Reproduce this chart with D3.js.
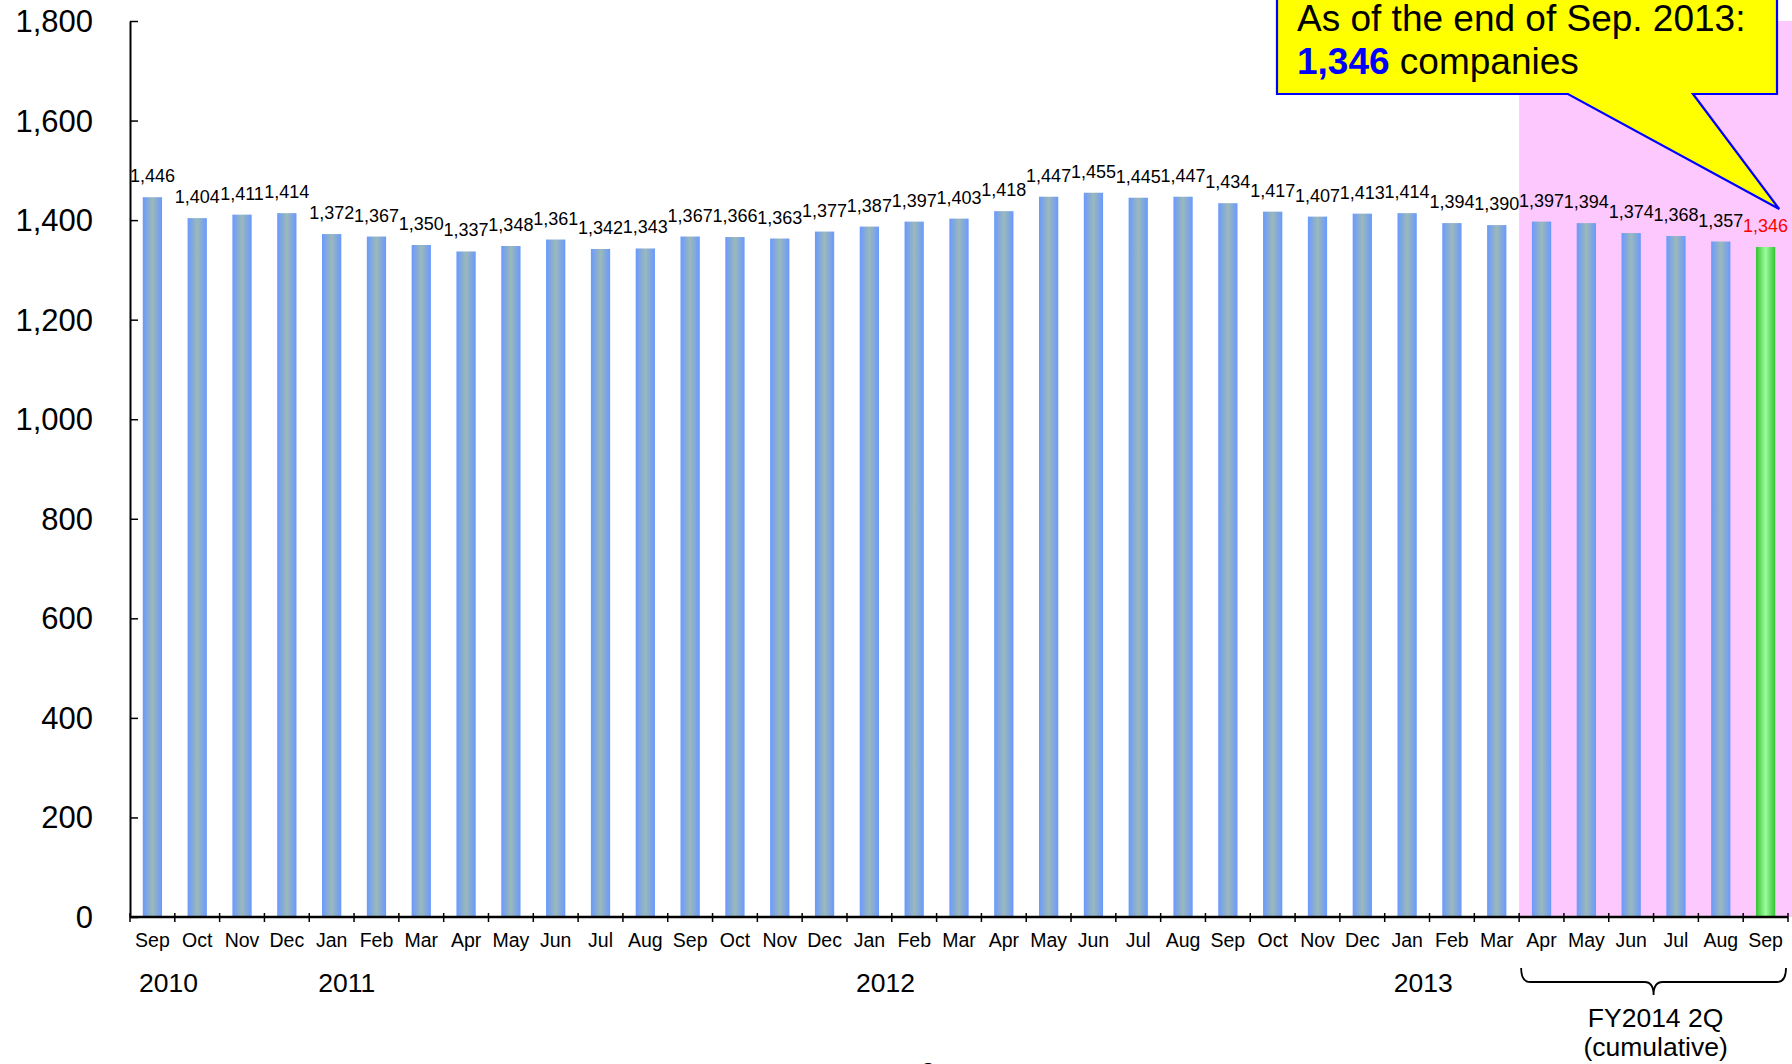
<!DOCTYPE html>
<html>
<head>
<meta charset="utf-8">
<script src="https://cdn.jsdelivr.net/npm/d3@7"></script>
<style>
    html, body { margin: 0; padding: 0; background: #ffffff; }
    svg { display: block; }
    .chartText { font-family: "Liberation Sans", Arial, sans-serif; fill: #000000; }
</style>
</head>
<body>
<svg width="1792" height="1064"></svg>
<script>
// monthly company counts, Sep 2010 .. Sep 2013
const months = ["Sep","Oct","Nov","Dec",
    "Jan","Feb","Mar","Apr","May","Jun","Jul","Aug","Sep","Oct","Nov","Dec",
    "Jan","Feb","Mar","Apr","May","Jun","Jul","Aug","Sep","Oct","Nov","Dec",
    "Jan","Feb","Mar","Apr","May","Jun","Jul","Aug","Sep"]
const counts = [1446,1404,1411,1414,
    1372,1367,1350,1337,1348,1361,1342,1343,1367,1366,1363,1377,
    1387,1397,1403,1418,1447,1455,1445,1447,1434,1417,1407,1413,
    1414,1394,1390,1397,1394,1374,1368,1357,1346]

// year labels and the month index they start at
const years = ["2010","2011","2012","2013"]
const yearStart = [0,4,16,28]

// FY2014 2Q cumulative months (Apr 2013 onwards)
const fyStart = 31
const fyLabel = ["FY2014 2Q","(cumulative)"]

const yTicks = [0,200,400,600,800,1000,1200,1400,1600,1800]

const calloutLine1 = "As of the end of Sep. 2013:"
const calloutValue = "1,346"
const calloutRest = " companies"

let svg = d3.select("svg")
let svgWidth = 1792

//plot area
let plotLeft = 130
let plotRight = 1788
let plotTop = 21
let plotBottom = 917

let fmt = d3.format(",")

let x = d3.scaleBand()
    .domain(d3.range(counts.length))
    .range([plotLeft, plotRight])
    .paddingInner(0.57)
    .paddingOuter(0.285)

let y = d3.scaleLinear()
    .domain([0, 1800])
    .range([plotBottom, plotTop])

let step = x.step()
let bandStart = (i) => plotLeft + i * step

//gradients for bars
let defs = svg.append("defs")
function addGradient(id, edge, mid){
    let g = defs.append("linearGradient")
        .attr("id", id)
        .attr("x1", "0%").attr("x2", "100%")
        .attr("y1", "0%").attr("y2", "0%")
    g.append("stop").attr("offset", "0%").attr("stop-color", edge)
    g.append("stop").attr("offset", "50%").attr("stop-color", mid)
    g.append("stop").attr("offset", "100%").attr("stop-color", edge)
}
addGradient("blueBar", "#6a99ff", "#9bb9b9")
addGradient("greenBar", "#33c433", "#9cfc9c")

//pink background for the current fiscal period
svg.append("rect")
    .attr("x", bandStart(fyStart))
    .attr("y", y(1800))
    .attr("width", svgWidth - bandStart(fyStart))
    .attr("height", plotBottom - y(1800))
    .style("fill", "#fdc8fd")

//bars
let last = counts.length - 1
svg.append("g").selectAll("rect")
    .data(counts).enter()
    .append("rect")
    .attr("x", (d,i) => x(i))
    .attr("y", (d) => y(d))
    .attr("width", x.bandwidth())
    .attr("height", (d) => plotBottom - y(d))
    .style("fill", (d,i) => i == last ? "url(#greenBar)" : "url(#blueBar)")

//value labels
svg.append("g").selectAll("text")
    .data(counts).enter()
    .append("text")
    .classed("chartText", true)
    .attr("x", (d,i) => x(i) + x.bandwidth()/2)
    .attr("y", (d) => y(d) - 15)
    .attr("text-anchor", "middle")
    .style("font-size", "18px")
    .style("fill", (d,i) => i == last ? "#ff0000" : "#000000")
    .text((d) => fmt(d))

// y axis
let yAxis = d3.axisLeft(y)
    .tickValues(yTicks)
    .tickFormat(fmt)
    .tickSizeInner(-8)
    .tickSizeOuter(0)
    .tickPadding(37)
let yG = svg.append("g")
    .attr("transform", "translate(" + plotLeft + ",0)")
    .call(yAxis)
yG.select(".domain").attr("stroke-width", 2)
yG.selectAll(".tick line").attr("stroke-width", 1.5)
yG.selectAll(".tick text")
    .classed("chartText", true)
    .style("font-size", "31px")
    .attr("dy", "0.34em")

// x axis line and boundary ticks
svg.append("line")
    .attr("x1", plotLeft).attr("x2", plotRight)
    .attr("y1", plotBottom).attr("y2", plotBottom)
    .attr("stroke", "#000").attr("stroke-width", 2.5)
svg.append("g").selectAll("line")
    .data(d3.range(counts.length + 1)).enter()
    .append("line")
    .attr("x1", (d) => bandStart(d)).attr("x2", (d) => bandStart(d))
    .attr("y1", plotBottom - 4).attr("y2", plotBottom + 5)
    .attr("stroke", "#000").attr("stroke-width", 1.5)

//month labels
svg.append("g").selectAll("text")
    .data(months).enter()
    .append("text")
    .classed("chartText", true)
    .attr("x", (d,i) => x(i) + x.bandwidth()/2)
    .attr("y", 947)
    .attr("text-anchor", "middle")
    .style("font-size", "19.5px")
    .text((d) => d)

//year labels
svg.append("g").selectAll("text")
    .data(years).enter()
    .append("text")
    .classed("chartText", true)
    .attr("x", (d,i) => bandStart(yearStart[i]) + 9)
    .attr("y", 992)
    .style("font-size", "26.5px")
    .text((d) => d)

//brace under the fiscal period
let bx0 = bandStart(fyStart) + 2
let bx1 = plotRight - 2
let bmid = (bx0 + bx1) / 2
let by = 982
svg.append("path")
    .attr("d", "M" + bx0 + ",968 Q" + bx0 + "," + by + " " + (bx0+9) + "," + by
        + " L" + (bmid-9) + "," + by + " Q" + bmid + "," + by + " " + bmid + "," + (by+13)
        + " Q" + bmid + "," + by + " " + (bmid+9) + "," + by
        + " L" + (bx1-9) + "," + by + " Q" + bx1 + "," + by + " " + bx1 + ",968")
    .attr("fill", "none")
    .attr("stroke", "#000")
    .attr("stroke-width", 1.8)

svg.append("g").selectAll("text")
    .data(fyLabel).enter()
    .append("text")
    .classed("chartText", true)
    .attr("x", bmid + 2)
    .attr("y", (d,i) => 1027 + i*29)
    .attr("text-anchor", "middle")
    .style("font-size", "26.5px")
    .text((d) => d)

//callout box with pointer to the last bar
let tipX = x(last) + x.bandwidth() + 4
let tipY = y(counts[last]) - 38
svg.append("path")
    .attr("d", "M1277,-5 L1777,-5 L1777,94 L1693,94 L" + tipX + "," + tipY + " L1568,94 L1277,94 Z")
    .attr("fill", "#ffff00")
    .attr("stroke", "#0000ff")
    .attr("stroke-width", 2.2)
    .attr("stroke-linejoin", "miter")

svg.append("text")
    .classed("chartText", true)
    .attr("x", 1297)
    .attr("y", 31)
    .style("font-size", "37px")
    .text(calloutLine1)

let line2 = svg.append("text")
    .classed("chartText", true)
    .attr("x", 1297)
    .attr("y", 74)
    .style("font-size", "37px")
line2.append("tspan")
    .style("font-weight", "bold")
    .style("fill", "#0000ff")
    .text(calloutValue)
line2.append("tspan")
    .style("white-space", "pre")
    .text(calloutRest)

//page number, cut off at the bottom edge
svg.append("text")
    .classed("chartText", true)
    .attr("x", 928)
    .attr("y", 1081)
    .attr("text-anchor", "middle")
    .style("font-size", "26px")
    .text("2")
</script>
</body>
</html>
